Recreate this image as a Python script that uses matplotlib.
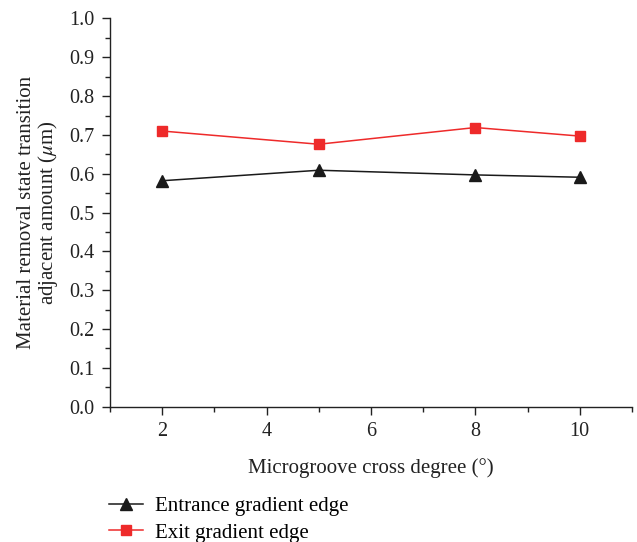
import numpy as np
import matplotlib
matplotlib.use("Agg")
import matplotlib.pyplot as plt
from matplotlib.ticker import MultipleLocator

plt.rcParams['font.family'] = ['Liberation Serif', 'DejaVu Serif']
plt.rcParams['mathtext.fontset'] = 'stix'

# donnees
cross_degree = [2, 5, 8, 10]
entrance = [0.582, 0.609, 0.597, 0.591]
exit_edge = [0.710, 0.676, 0.719, 0.697]
labels = ["Entrance gradient edge", "Exit gradient edge"]

fig = plt.figure(figsize=(6.37, 5.42), dpi=100)
ax = fig.add_axes([0.1727, 0.2496, 0.8193, 0.7164])

ax.plot(cross_degree, entrance, color='#1a1a1a', lw=1.1, marker='^', ms=8,
        label=labels[0])
ax.plot(cross_degree, exit_edge, color='#ee2a2a', lw=1.1, marker='s', ms=6.5,
        label=labels[1])

ax.set_xlim(1, 11)
ax.set_ylim(0, 1.0)
ax.xaxis.set_major_locator(MultipleLocator(2))
ax.xaxis.set_minor_locator(MultipleLocator(1))
ax.yaxis.set_major_locator(MultipleLocator(0.1))
ax.yaxis.set_minor_locator(MultipleLocator(0.05))
ax.yaxis.set_major_formatter(plt.FormatStrFormatter('%.1f'))

for s in ['top', 'right']:
    ax.spines[s].set_visible(False)
for s in ['left', 'bottom']:
    ax.spines[s].set_linewidth(1.0)
    ax.spines[s].set_color('#222222')

ax.tick_params(which='major', direction='out', length=6, width=1.0,
               labelsize=14.5, colors='#222222', pad=5)
ax.tick_params(which='minor', direction='out', length=3.5, width=1.0,
               colors='#222222')

ax.set_xlabel("Microgroove cross degree (°)", fontsize=15, labelpad=12,
              color='#222222')
ax.set_ylabel("Material removal state transition\nadjacent amount ($\\mu$m)",
              fontsize=15, labelpad=7, color='#222222', linespacing=1.0)

fig.legend(loc='lower left', bbox_to_anchor=(0.142, -0.036), frameon=False,
           fontsize=15, handlelength=1.6, handletextpad=0.6,
           labelspacing=0.35)

fig.savefig("out.png", dpi=100)
